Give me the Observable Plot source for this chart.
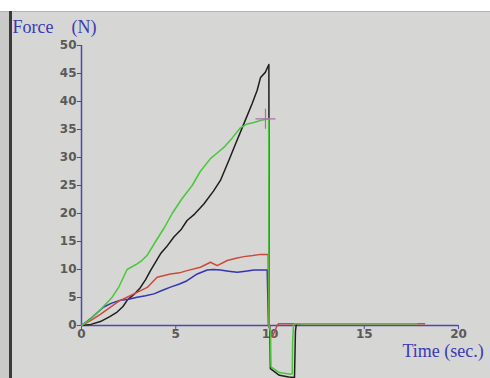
<!DOCTYPE html>
<html><head><meta charset="utf-8">
<script src="https://cdn.jsdelivr.net/npm/d3@7"></script>
<script src="https://cdn.jsdelivr.net/npm/@observablehq/plot@0.6"></script>
<style>
html,body{margin:0;padding:0;background:#fff;}
#wrap{position:relative;width:490px;height:378px;overflow:hidden;background:#fff;}
#panel{position:absolute;left:0;top:11px;width:490px;height:367px;background:#d6d6d4;border-top:1px solid #b4b4b4;}
#strip{position:absolute;left:0;top:12px;width:9px;height:366px;background:#cacac8;}
#edge{position:absolute;left:9px;top:11px;width:3px;height:367px;background:#3a3a3a;}
#chart{position:absolute;left:0;top:0;}
</style></head>
<body><div id="wrap"><div id="panel"></div><div id="strip"></div><div id="edge"></div><div id="chart"></div></div>
<script>
// Tick labels
const xTicks = [0, 5, 10, 15, 20];
const yTicks = [0, 5, 10, 15, 20, 25, 30, 35, 40, 45, 50];
const yLabel = "Force\u00a0\u00a0\u00a0\u00a0(N)";
const xLabel = "Time (sec.)";

// Specimen 1 (black trace)
const s1T = [0, 0.5, 1.0, 1.5, 1.89, 2.2, 2.42, 2.8, 3.13, 3.4, 3.66, 4.19, 4.5, 4.9, 5.3, 5.6, 6.0, 6.49, 7.0, 7.37, 7.82, 8.17, 8.61, 9.05, 9.32, 9.5, 9.75, 9.94, 9.96, 10.0, 10.02, 10.5, 11.0, 11.3, 11.35, 11.4, 11.6];
const s1F = [0, 0.2, 0.7, 1.6, 2.4, 3.4, 4.5, 5.6, 6.8, 8.2, 9.8, 12.8, 14.0, 15.8, 17.2, 18.75, 19.9, 21.7, 24.0, 25.9, 29.5, 32.4, 36.0, 39.6, 42.0, 44.3, 45.2, 46.6, 0, -1, -7.7, -8.9, -9.2, -9.3, -1, 0.3, 0.3];

// Specimen 2 (blue trace)
const s2T = [0, 0.5, 1.18, 1.6, 2.07, 2.5, 2.95, 3.4, 3.84, 4.3, 4.72, 5.2, 5.6, 6.14, 6.67, 7.0, 7.37, 7.8, 8.26, 8.7, 9.14, 9.5, 9.85, 9.88, 9.92];
const s2F = [0, 1.3, 3.3, 4.0, 4.5, 4.7, 5.05, 5.3, 5.65, 6.3, 6.85, 7.4, 8.0, 9.2, 9.9, 10.0, 9.9, 9.7, 9.5, 9.7, 9.9, 9.9, 9.9, 5.5, 0];

// Specimen 3 (red trace)
const s3T = [0, 0.5, 1.0, 1.54, 2.0, 2.42, 3.0, 3.49, 4.01, 4.72, 5.2, 5.6, 6.31, 6.84, 7.2, 7.73, 8.2, 8.61, 9.1, 9.5, 9.9, 9.93, 10.12, 10.38, 10.45, 18.2];
const s3F = [0, 0.9, 2.0, 3.3, 4.4, 5.05, 6.0, 6.8, 8.6, 9.2, 9.4, 9.8, 10.4, 11.3, 10.7, 11.6, 12.0, 12.3, 12.5, 12.7, 12.7, 0, -2.1, 0, 0.3, 0.3];

// Specimen 4 (green trace)
const s4T = [0, 0.5, 1.0, 1.63, 2.0, 2.42, 2.95, 3.2, 3.5, 3.93, 4.4, 4.81, 5.3, 5.87, 6.3, 6.84, 7.2, 7.55, 8.0, 8.43, 8.79, 9.1, 9.5, 9.88, 9.93, 9.95, 10.03, 10.05, 10.5, 11.1, 11.18, 11.2, 11.25, 11.3, 17.8];
const s4F = [0, 1.2, 2.8, 5.05, 7.0, 10.0, 11.0, 11.6, 12.6, 15.0, 17.5, 20.0, 22.5, 25.0, 27.5, 29.8, 30.8, 31.8, 33.5, 35.3, 36.0, 36.2, 36.6, 36.9, 37.0, 0, -1, -7.4, -8.4, -8.7, -8.6, -3, 0.2, 0.3, 0.3];

// Crosshair marker
const markerT = [9.76];
const markerF = [36.9];

const seriesNames = ["specimen 1", "specimen 2", "specimen 3", "specimen 4"];
const seriesColors = ["#1e1e1e", "#3434b4", "#cc4a3c", "#48c838"];
const seriesT = [s1T, s2T, s3T, s4T];
const seriesF = [s1F, s2F, s3F, s4F];

const rows = seriesNames.flatMap((name, i) => seriesT[i].map((t, j) => ({series: name, t, f: seriesF[i][j]})));
const markerRows = markerT.map((t, i) => ({t, f: markerF[i]}));

const axisColor = "#4a4aaa";
const cross = {
  draw(ctx, size) {
    const r = Math.sqrt(size / Math.PI);
    ctx.moveTo(-r, 0); ctx.lineTo(r, 0);
    ctx.moveTo(0, -r); ctx.lineTo(0, r);
  }
};

const chart = Plot.plot({
  width: 490, height: 378,
  marginLeft: 81, marginRight: 32, marginTop: 45, marginBottom: 53,
  style: {background: "transparent", overflow: "visible", fontFamily: "'DejaVu Sans', sans-serif", fontSize: "12px"},
  x: {domain: [0, 20]},
  y: {domain: [0, 50]},
  color: {type: "ordinal", domain: seriesNames, range: seriesColors},
  marks: [
    Plot.axisX({ticks: xTicks, tickSize: 4, tickPadding: 0, stroke: axisColor, fill: "#5a5a5a", fontWeight: "bold", label: null}),
    Plot.axisY({ticks: yTicks, tickSize: 4, tickPadding: 1, stroke: axisColor, fill: "#5a5a5a", fontWeight: "bold", label: null}),
    Plot.ruleY([0], {stroke: axisColor, strokeWidth: 1.5}),
    Plot.ruleX([0], {stroke: axisColor, strokeWidth: 1.5}),
    Plot.line(rows, {x: "t", y: "f", z: "series", stroke: "series", strokeWidth: 1.5, strokeLinejoin: "round"}),
    Plot.dot(markerRows, {x: "t", y: "f", symbol: cross, r: 10, stroke: "#b468b4", strokeWidth: 1.2, fill: "none"}),
    Plot.text([yLabel], {frameAnchor: "top-left", dx: -69, dy: -25, textAnchor: "start", fill: "#3a3ab4", fontFamily: "'Liberation Serif', serif", fontSize: 18}),
    Plot.text([xLabel], {frameAnchor: "bottom-right", dx: -56, dy: 31, textAnchor: "start", fill: "#3a3ab4", fontFamily: "'Liberation Serif', serif", fontSize: 18})
  ]
});
document.getElementById("chart").appendChild(chart);
</script>
</body></html>
